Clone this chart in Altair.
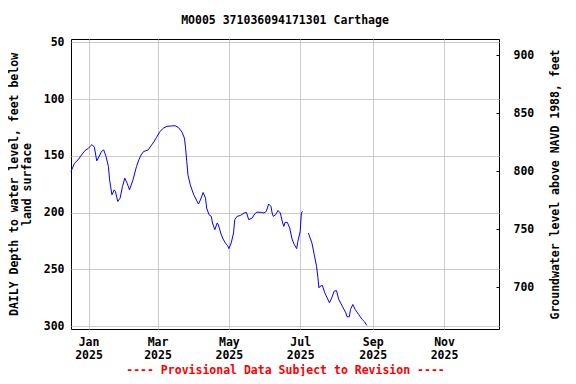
import altair as alt
import pandas as pd

FONT = "DejaVu Sans Mono"

seg1_dates = [
    "2024-12-17", "2024-12-20", "2024-12-23", "2024-12-26", "2024-12-29",
    "2025-01-01", "2025-01-03", "2025-01-04", "2025-01-06", "2025-01-08",
    "2025-01-10", "2025-01-12", "2025-01-14", "2025-01-16", "2025-01-18",
    "2025-01-19", "2025-01-21", "2025-01-23", "2025-01-24", "2025-01-26",
    "2025-01-28", "2025-01-30", "2025-02-01", "2025-02-03", "2025-02-05",
    "2025-02-08", "2025-02-11", "2025-02-13", "2025-02-15", "2025-02-17",
    "2025-02-21", "2025-02-24", "2025-02-26", "2025-02-28", "2025-03-03",
    "2025-03-06", "2025-03-09", "2025-03-13", "2025-03-16", "2025-03-19",
    "2025-03-22", "2025-03-24", "2025-03-25", "2025-03-26", "2025-03-27",
    "2025-03-29", "2025-04-01", "2025-04-05", "2025-04-07", "2025-04-09",
    "2025-04-11", "2025-04-12", "2025-04-14", "2025-04-16", "2025-04-17",
    "2025-04-19", "2025-04-21", "2025-04-22", "2025-04-24", "2025-04-26",
    "2025-04-28", "2025-04-30", "2025-05-01", "2025-05-03", "2025-05-05",
    "2025-05-06", "2025-05-08", "2025-05-11", "2025-05-14", "2025-05-16",
    "2025-05-18", "2025-05-21", "2025-05-23", "2025-05-25", "2025-05-29",
    "2025-05-31", "2025-06-02", "2025-06-04", "2025-06-06", "2025-06-07",
    "2025-06-08", "2025-06-10", "2025-06-12", "2025-06-14", "2025-06-16",
    "2025-06-17", "2025-06-18", "2025-06-20", "2025-06-22", "2025-06-24",
    "2025-06-26", "2025-06-28", "2025-06-29", "2025-07-01", "2025-07-02",
    "2025-07-03",
]
seg1_depth = [
    163.9, 156.5, 153.6, 149.2, 145.4,
    143.3, 141.0, 140.2, 142.4, 154.5,
    150.7, 146.3, 144.8, 150.7, 159.5,
    171.2, 184.4, 180.0, 181.5, 190.2,
    187.3, 177.1, 169.7, 174.1, 180.0,
    171.2, 159.5, 153.6, 149.2, 146.3,
    144.8, 140.4, 137.5, 134.0, 128.7,
    125.7, 124.0, 123.7, 123.5, 125.2,
    129.3, 134.5, 143.3, 155.1, 166.8,
    175.6, 184.4, 192.5, 188.1, 182.3,
    187.3, 196.0, 201.9, 203.4, 209.2,
    215.1, 209.2, 210.7, 218.0, 223.3,
    226.8, 229.2, 231.8, 226.8, 218.0,
    206.3, 203.4, 202.5, 200.4, 199.9,
    206.3, 204.8, 201.3, 199.6, 199.9,
    200.4, 199.0, 192.5, 194.6, 200.4,
    203.4, 201.9, 198.2, 200.4, 209.2,
    212.2, 208.7, 208.7, 213.6, 223.3,
    228.3, 231.8, 225.4, 216.6, 200.4,
    199.0,
]
seg2_dates = [
    "2025-07-08", "2025-07-11", "2025-07-13", "2025-07-15", "2025-07-16",
    "2025-07-17", "2025-07-18", "2025-07-20", "2025-07-22", "2025-07-24",
    "2025-07-26", "2025-07-28", "2025-07-30", "2025-08-01", "2025-08-03",
    "2025-08-06", "2025-08-09", "2025-08-10", "2025-08-12", "2025-08-13",
    "2025-08-15", "2025-08-17", "2025-08-20", "2025-08-23", "2025-08-25",
    "2025-08-27",
]
seg2_depth = [
    218.0, 226.8, 237.1, 247.4, 256.1,
    266.3, 264.9, 264.3, 270.7, 275.1,
    279.5, 275.1, 269.3, 268.7, 276.6,
    282.5, 288.3, 291.8, 291.8, 285.4,
    281.0, 285.4, 289.8, 294.2, 296.2,
    299.5,
]

tick_months = [1, 3, 5, 7, 9, 11]
left_ticks = [50, 100, 150, 200, 250, 300]
right_ticks = [700, 750, 800, 850, 900]

df = pd.DataFrame({
    "date": seg1_dates + seg2_dates,
    "depth": seg1_depth + seg2_depth,
    "seg": [1] * len(seg1_dates) + [2] * len(seg2_dates),
})
rdf = pd.DataFrame({"elev": right_ticks})

x_values = [alt.DateTime(year=2025, month=m, date=1, utc=True) for m in tick_months]

line = alt.Chart(df).mark_line(color="#0000ff", strokeWidth=1).encode(
    x=alt.X(
        "date:T",
        scale=alt.Scale(
            type="utc",
            domain=[alt.DateTime(year=2024, month=12, date=17, utc=True),
                    alt.DateTime(year=2025, month=12, date=18, utc=True)],
        ),
        axis=alt.Axis(
            values=x_values,
            labelExpr="[utcFormat(datum.value, '%b'), utcFormat(datum.value, '%Y')]",
            grid=True, gridColor="#cccccc", gridWidth=1,
            ticks=False, domain=False,
            labelPadding=7, labelLineHeight=13, labelAlign="center",
            title="---- Provisional Data Subject to Revision ----",
            titleColor="#ff0000", titlePadding=4,
        ),
    ),
    y=alt.Y(
        "depth:Q",
        scale=alt.Scale(domain=[47.1, 302.6], reverse=True, nice=False, zero=False),
        axis=alt.Axis(
            values=left_ticks, grid=True, gridColor="#cccccc", gridWidth=1,
            ticks=False, domain=False, labelPadding=7,
            title=["DAILY Depth to water level, feet below", "land surface"],
            titleLineHeight=13, titlePadding=11,
        ),
    ),
    detail="seg:N",
)

right = alt.Chart(rdf).mark_point(opacity=0).encode(
    y=alt.Y(
        "elev:Q",
        scale=alt.Scale(domain=[664.1, 913.8], nice=False, zero=False),
        axis=alt.Axis(
            orient="right", values=right_ticks, grid=False, domain=False,
            offset=-3, tickSize=3, tickColor="black", labelPadding=14,
            title="Groundwater level above NAVD 1988, feet",
            titleAngle=270, titlePadding=27,
        ),
    ),
)

chart = alt.layer(line, right).resolve_scale(y="independent").properties(
    width=428, height=290,
    padding={"left": 63, "top": 31, "right": 69, "bottom": 47},
    autosize=alt.AutoSizeParams(type="none"),
    title=alt.TitleParams(
        text="MO005 371036094171301 Carthage",
        font=FONT, fontSize=11.5, fontWeight="bold", color="black",
        offset=10, anchor="middle",
    ),
).configure_view(stroke="black", strokeWidth=1).configure_axis(
    labelFont=FONT, labelFontWeight="bold", labelFontSize=11.5, labelColor="black",
    titleFont=FONT, titleFontWeight="bold", titleFontSize=11.5, titleColor="black",
)

chart.save("out.html", embed_options={"renderer": "svg", "actions": False})
